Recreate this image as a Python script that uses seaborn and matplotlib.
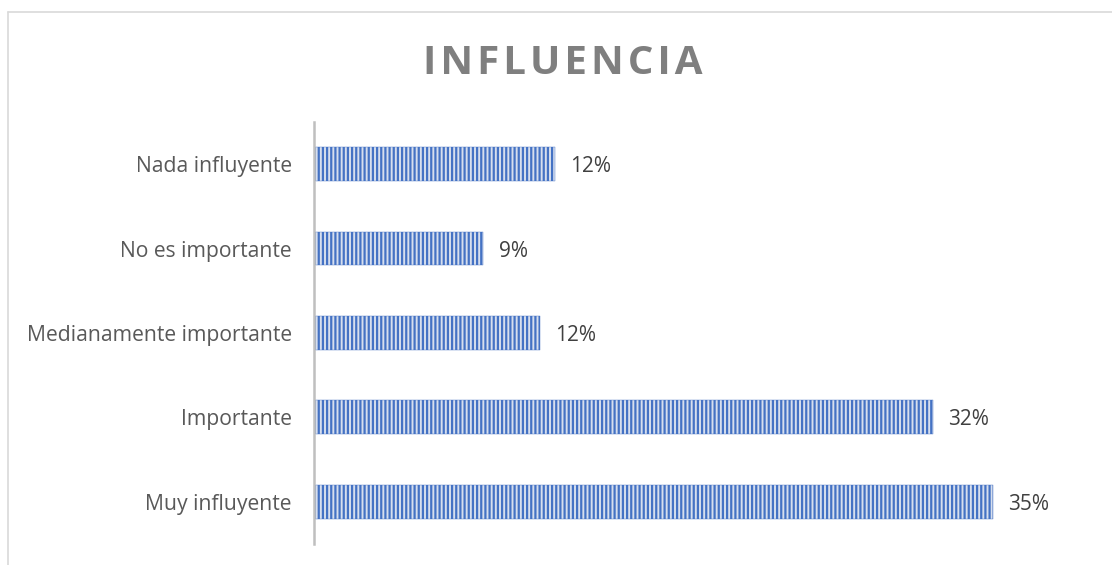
import matplotlib.pyplot as plt
import seaborn as sns
from matplotlib.lines import Line2D

# data (percent of respondents)
categories = ['Nada influyente', 'No es importante', 'Medianamente importante',
              'Importante', 'Muy influyente']
percentages = [12.4, 8.7, 11.6, 31.8, 34.9]

sns.set_style('white')
plt.rcParams['font.family'] = ['Open Sans', 'DejaVu Sans']
plt.rcParams['hatch.linewidth'] = 1.6

fig = plt.figure(figsize=(11.12, 5.65), dpi=100)
ax = fig.add_axes([0.2824, 0.0372, 0.6996, 0.747])

sns.barplot(x=percentages, y=categories, orient='h', width=0.4,
            color='#D3DEF2', ax=ax)

for bar in ax.patches:
    bar.set_hatch('||||')
    bar.set_edgecolor('#4472C4')
    bar.set_linewidth(0.3)

labels = ax.bar_label(ax.containers[0], labels=[f'{v:.0f}%' for v in percentages],
                      padding=11, fontsize=15, color='#404040')
for t in labels:
    t.set_va('center_baseline')

ax.set_xlim(0, 40)
ax.set_ylim(4.5, -0.5)
ax.set_xticks([])
ax.set_xlabel('')
ax.set_ylabel('')
ax.tick_params(axis='y', length=0, pad=16, labelsize=15.2, labelcolor='#595959')

for side in ['top', 'right', 'bottom']:
    ax.spines[side].set_visible(False)
ax.spines['left'].set_color('#BFBFBF')
ax.spines['left'].set_linewidth(1.8)

# title with spaced letters
fig.text(0.506, 1 - 63 / 565, '\u200a'.join('INFLUENCIA'), ha='center', va='center',
         fontsize=29, fontweight='bold', color='#7F7F7F',
         family=['Open Sans', 'DejaVu Sans'])

# chart frame (only top and left edges are visible in the crop)
fig.add_artist(Line2D([7.5 / 1112, 7.5 / 1112], [0, 1 - 11.5 / 565],
                      color='#D9D9D9', linewidth=1.2))
fig.add_artist(Line2D([7.5 / 1112, 1], [1 - 11.5 / 565, 1 - 11.5 / 565],
                      color='#D9D9D9', linewidth=1.2))

fig.savefig('out.png', dpi=100)
